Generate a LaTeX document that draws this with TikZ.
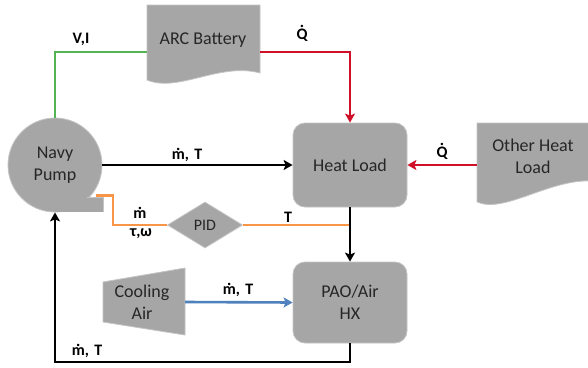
\documentclass[tikz,border=0pt]{standalone}
\usepackage{fontspec}
\setmainfont{Carlito}
\usetikzlibrary{shapes.geometric,arrows.meta,calc}
\definecolor{boxfill}{RGB}{166,166,166}
\definecolor{boxedge}{RGB}{196,196,196}
\definecolor{txt}{RGB}{38,38,38}
\definecolor{lgreen}{RGB}{84,180,84}
\definecolor{lred}{RGB}{208,16,40}
\definecolor{lorange}{RGB}{247,150,70}
\definecolor{lblue}{RGB}{79,129,189}
\newcommand\dm{{\ooalign{m\cr\hidewidth ˙\hidewidth\cr}}}
\newcommand\dQ{{\ooalign{Q\cr\hidewidth\raisebox{0.17em}{˙}\hidewidth\cr}}}
\begin{document}
\begin{tikzpicture}[x=1pt,y=-1pt,
  shp/.style={fill=boxfill, draw=boxedge, line width=0.8pt},
  lbl/.style={font=\fontsize{18}{22}\selectfont, text=txt, align=center, inner sep=0pt},
  ghost/.style={draw=none, fill=none, inner sep=0pt},
  conn/.style={line width=2.6pt},
  flow/.style={conn, -{Stealth[length=9pt,width=10pt,inset=2pt]}},
  tag/.style={font=\bfseries\fontsize{16}{17}\selectfont, inner sep=1pt}]
\useasboundingbox (0,0) rectangle (588,367);
\clip (0,0) rectangle (588,367);
\fill[white] (0,0) rectangle (588,367);

% ARC Battery (document shape)
\path[shp] (147,5) -- (260,5) -- (260,73)
  .. controls (220,62) and (178,93) .. (147,80) -- cycle;
\node[ghost, minimum width=113pt, minimum height=84pt] (bat) at (203.5,47) {};
\node[lbl] (battxt) at (203,40) {ARC Battery};

% Other Heat Load (document shape)
\path[shp] (477,123) -- (594,123) -- (594,181)
  .. controls (550,178) and (505,214) .. (477,202) -- cycle;
\node[ghost, minimum width=116pt, minimum height=84pt] (other) at (535,165) {};
\node[lbl] (othertxt) at (533,156.5) {Other Heat\\Load};

% Navy Pump
\node[shp, circle, minimum size=94pt, inner sep=0pt] (pump) at (55,165) {};
\fill[boxfill] (55,197) rectangle (103,211.6);
\draw[boxedge, line width=0.8pt] (87,197) -- (103,197) -- (103,211.6);
\node[lbl] (pumptxt) at (55,165) {Navy\\Pump};
\coordinate (outlet) at (96,195.5);

% Heat Load and HX
\node[shp, lbl, rounded corners=12pt, minimum width=114pt, minimum height=84pt] (heat) at (350,165) {Heat Load};
\node[shp, lbl, rounded corners=12pt, minimum width=114pt, minimum height=81pt] (hx) at (350,302.5) {PAO/Air\\HX};

% PID
\node[shp, diamond, aspect=1.63, minimum width=75pt, minimum height=46pt, inner sep=0pt,
  font=\fontsize{16}{18}\selectfont, text=txt] (pid) at (205,225) {PID};

% Cooling Air
\path[shp] (103,282) -- (185,268) -- (185,335) -- (103,322) -- cycle;
\node[ghost, minimum width=82pt, minimum height=67pt] (cool) at (144,302) {};
\node[lbl] (cooltxt) at (142,302) {Cooling\\Air};

% helper coordinates
\coordinate (bendx) at (113,0);
\coordinate (low) at (0,362);

% connectors
\draw[conn, lgreen] ([yshift=-5pt]bat.west) -| (pump.north);
\draw[flow, lred] ([yshift=-5pt]bat.east) -| (heat.north);
\draw[flow, black] (pump.east) -- (heat.west);
\draw[flow, lred] (other.west) -- (heat.east);
\draw[conn, lorange] (pid.east -| heat.south) -- (pid.east);
\draw[conn, lorange] (pid.west) -- (pid.west -| bendx) |- (outlet);
\draw[flow, black] (heat.south) -- (hx.north);
\draw[flow, lblue] (cool.east) -- (hx.west);
\draw[flow, black] (hx.south) -- (hx.south |- low) -| (pump.south);

% labels
\node[tag] (lvi) at (81,39) {V,I};
\node[tag] (lq1) at (302,34) {\dQ};
\node[tag] (lmt1) at (187,155) {\dm,\,\,T};
\node[tag] (lq2) at (442,152) {\dQ};
\node[tag] (lm) at (140,215) {\dm};
\node[tag] (ltw) at (141,234) {τ,ω};
\node[tag] (lt) at (288,217) {T};
\node[tag] (lmt2) at (238,290) {\dm,\,\,T};
\node[tag] (lmt3) at (87,351) {\dm,\,\,T};
\end{tikzpicture}
\end{document}
